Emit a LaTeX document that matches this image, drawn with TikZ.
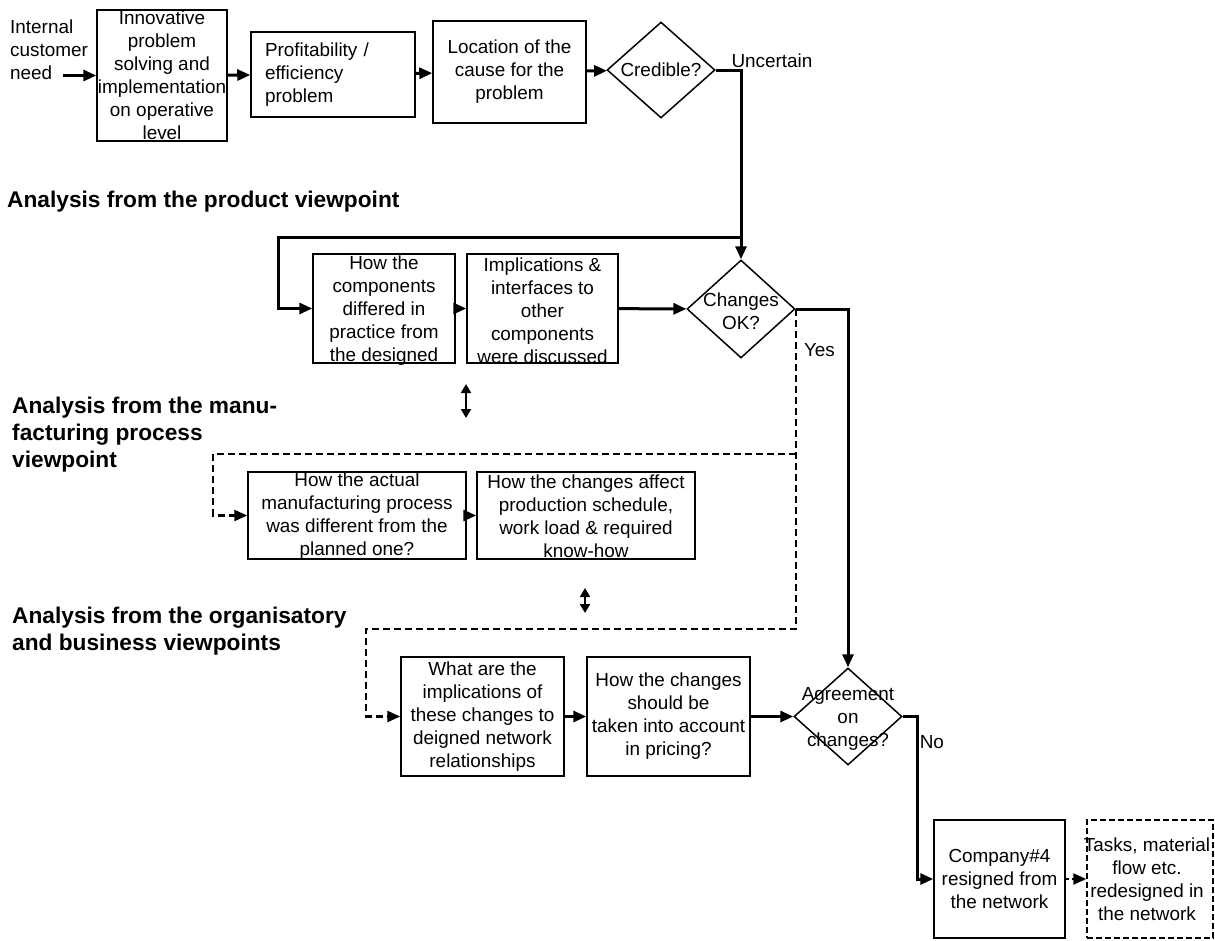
\documentclass[tikz,border=0pt]{standalone}
\usepackage{fontspec}
\setmainfont{Liberation Sans}
\usetikzlibrary{arrows.meta,positioning,calc,shapes.geometric}

\newcommand\bodyfont{\fontsize{18.9}{23}\selectfont}
\newcommand\headfont{\fontsize{22.7}{27}\selectfont\bfseries}

\begin{document}
\begin{tikzpicture}[x=1pt,y=-1pt,font=\bodyfont,
  box/.style={draw,line width=1.5pt,inner sep=0pt,align=center},
  dbox/.style={box,dash pattern=on 6pt off 3pt},
  dia/.style={draw,diamond,line width=1.5pt,inner sep=0pt},
  txt/.style={align=center,inner sep=0pt},
  note/.style={anchor=west,align=left,inner sep=0pt},
  head/.style={note,font=\headfont},
  flow/.style={line width=3pt,-{Triangle[length=13pt,width=11pt]}},
  alt/.style={line width=2.5pt,dash pattern=on 7pt off 4pt,-{Triangle[length=13pt,width=11pt]}},
  both/.style={line width=2pt,{Triangle[length=9pt,width=10pt]}-{Triangle[length=9pt,width=10pt]}}]
  \useasboundingbox (0,0) rectangle (1215,940);

  % first row
  \node[note] (cust) at (10,50) {Internal\\customer\\need};
  \coordinate (need) at (63,75.5);
  \node[box,minimum width=130pt,minimum height=131pt,
    label={[txt]center:{Innovative\\problem\\solving and\\implementation\\on operative\\level}}] (innov) at (162,75.5) {};
  \node[box,minimum width=164pt,minimum height=85pt,align=left,text width=136pt,inner xsep=14pt] (prof) at (333,74.5)
    {Profitability /\\efficiency\\problem};
  \node[box,minimum width=153pt,minimum height=102pt] (loc) at (509.5,72) {Location of the\\cause for the\\problem};
  \node[dia,minimum width=108pt,minimum height=96pt,label={[txt]center:{Credible?}}] (cred) at (661,70) {};

  % product viewpoint
  \node[head] (prodview) at (7,202) {Analysis from the product viewpoint};
  \node[box,minimum width=142pt,minimum height=109pt,
    label={[txt,yshift=-2pt]center:{How the\\components\\differed in\\practice from\\the designed}}] (comp) at (384,308.5) {};
  \node[box,minimum width=151pt,minimum height=109pt,
    label={[txt,yshift=-2pt]center:{Implications \&\\interfaces to\\other\\components\\were discussed}}] (impl) at (542.5,308.5) {};
  \node[dia,minimum width=108pt,minimum height=98pt,label={[txt,yshift=-2pt]center:{Changes\\OK?}}] (chok) at (741,309) {};

  % manufacturing viewpoint
  \node[head] (mfgview) at (12,435) {Analysis from the manu-\\facturing process\\viewpoint};
  \node[box,minimum width=218pt,minimum height=87pt,
    label={[txt,yshift=-1pt]center:{How the actual\\manufacturing process\\was different from the\\planned one?}}] (actual) at (357,515.5) {};
  \node[box,minimum width=218pt,minimum height=87pt,
    label={[txt,yshift=-1pt]center:{How the changes affect\\production schedule,\\work load \& required\\know-how}}] (affect) at (586,515.5) {};

  % organisatory and business viewpoints
  \node[head] (orgview) at (12,631) {Analysis from the organisatory\\and business viewpoints};
  \node[box,minimum width=163pt,minimum height=119pt] (what) at (482.5,716.5)
    {What are the\\implications of\\these changes to\\deigned network\\relationships};
  \node[box,minimum width=163pt,minimum height=119pt] (price) at (668.5,716.5)
    {How the changes\\should be\\taken into account\\in pricing?};
  \node[dia,minimum width=108pt,minimum height=97pt,label={[txt,yshift=-2pt]center:{Agreement\\on\\changes?}}] (agree) at (848,716.5) {};

  % outcome
  \node[box,minimum width=131pt,minimum height=118pt] (company) at (999.5,879) {Company\#4\\resigned from\\the network};
  \node[dbox,minimum width=126pt,minimum height=118pt,
    label={[txt,xshift=-3pt]center:{Tasks, material\\flow etc.\\redesigned in\\the network}}] (tasks) at (1150,879) {};

  % connectors
  \draw[flow] (need) -- (innov);
  \draw[flow] (innov) -- (prof);
  \draw[flow] (prof) -- (loc);
  \draw[flow] (loc) -- (cred);
  \draw[flow] (cred.east) -| node[pos=.5,anchor=south west,xshift=-12pt,inner sep=1pt]{Uncertain} (chok.north);
  \coordinate (split) at (741,237);
  \draw[flow] (split) -| ([xshift=-34pt]comp.west) -- (comp.west);
  \draw[flow] (comp) -- (impl);
  \draw[flow] (impl) -- (chok);
  \draw[flow] (chok.east) -| (agree.north);
  \coordinate (gap1) at (213,454);
  \coordinate (gap2) at (366,629);
  \draw[alt] (chok.east) |- node[pos=.064,right,xshift=6pt,inner sep=1pt]{Yes} (gap2) |- (what.west);
  \draw[alt] (chok.east |- gap1) -- (gap1) |- (actual.west);
  \draw[flow] (actual) -- (affect);
  \draw[flow] (what) -- (price);
  \draw[flow] (price) -- (agree);
  \draw[flow] (agree.east) -| node[pos=.58,right,inner sep=1pt]{No} ([xshift=-16pt]company.west) -- (company.west);
  \draw[alt,dash pattern=on 3pt off 3pt] (company) -- (tasks);
  % two-way hints between the views
  \coordinate (up1) at (466,384);
  \coordinate (dn1) at (466,418);
  \draw[both] (up1) -- (dn1);
  \coordinate (up2) at (585,588);
  \coordinate (dn2) at (585,613);
  \draw[both] (up2) -- (dn2);
\end{tikzpicture}
\end{document}
